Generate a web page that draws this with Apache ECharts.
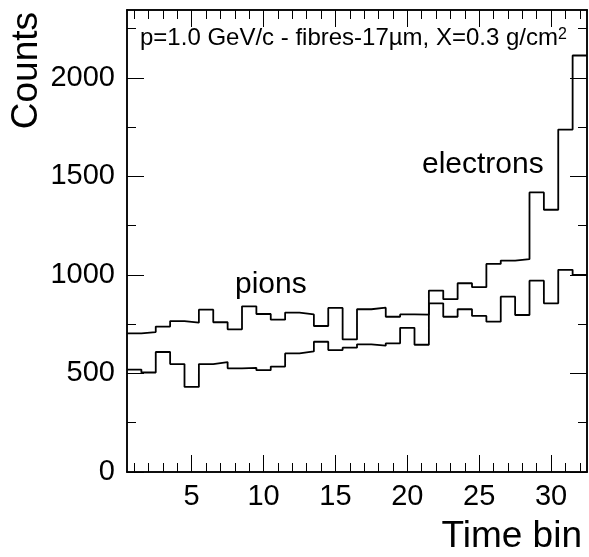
<!DOCTYPE html>
<html>
<head>
<meta charset="utf-8">
<script src="https://cdn.jsdelivr.net/npm/echarts@6/dist/echarts.min.js"></script>
<style>
html,body{margin:0;padding:0;background:#fff;}
#chart{width:589px;height:557px;}
</style>
</head>
<body>
<div id="chart"></div>
<script>
// Bin numbers (time bins 1..32)
const bins = [1,2,3,4,5,6,7,8,9,10,11,12,13,14,15,16,17,18,19,20,21,22,23,24,25,26,27,28,29,30,31,32];
// Counts per bin
const pions = [704,710,738,766,758,824,760,724,841,802,773,809,800,741,833,673,826,834,788,800,799,856,788,826,792,763,890,797,971,856,1026,1000];
const electrons = [520,505,609,548,432,548,558,526,529,517,535,602,612,661,619,631,648,641,653,732,646,921,877,958,938,1056,1073,1080,1419,1331,1738,2114];
// Axis ticks
const xMajorTicks = [5,10,15,20,25,30];
const xMinorTicks = bins;
const yMajorTicks = [0,500,1000,1500,2000];
const yMinorTicks = [250,750,1250,1750,2250];
const xMin = 0.5, xMax = 32.5, yMin = 0, yMax = 2345;

function histPoints(vals){
  const pts = bins.map((b,i)=>[b-0.5, vals[i]]);
  pts.push([bins[bins.length-1]+0.5, vals[vals.length-1]]);
  return pts;
}

const FONT = 'Liberation Sans, Arial, Helvetica, sans-serif';
const lineStyle = {color:'#000', width:1.5};

function xAx(pos, ticks, len, labels){
  return {
    type:'value', position:pos, min:xMin, max:xMax,
    axisLine:{show:true, onZero:false, lineStyle},
    axisTick:{show:true, inside:true, length:len, customValues:ticks, lineStyle:{color:'#000',width:1}},
    axisLabel: labels ? {show:true, customValues:ticks, color:'#000', fontFamily:FONT, fontSize:29, margin:10,
      formatter:(v)=>String(v)} : {show:false},
    splitLine:{show:false}
  };
}
function yAx(pos, ticks, len, labels){
  return {
    type:'value', position:pos, min:yMin, max:yMax,
    axisLine:{show:true, onZero:false, lineStyle},
    axisTick:{show:true, inside:true, length:len, customValues:ticks, lineStyle:{color:'#000',width:1}},
    axisLabel: labels ? {show:true, customValues:ticks, color:'#000', fontFamily:FONT, fontSize:29, margin:12,
      formatter:(v)=>String(v)} : {show:false},
    splitLine:{show:false}
  };
}

const chart = echarts.init(document.getElementById('chart'), null, {renderer:'canvas'});
chart.setOption({
  animation:false,
  backgroundColor:'#fff',
  grid:{left:127, top:10, width:460, height:462, containLabel:false},
  xAxis:[
    xAx('bottom', xMajorTicks, 17, true),
    xAx('bottom', xMinorTicks, 9, false),
    xAx('top', xMajorTicks, 17, false),
    xAx('top', xMinorTicks, 9, false)
  ],
  yAxis:[
    yAx('left', yMajorTicks, 17, true),
    yAx('left', yMinorTicks, 9, false),
    yAx('right', yMajorTicks, 17, false),
    yAx('right', yMinorTicks, 9, false)
  ],
  series:[
    {name:'pions', type:'line', step:'end', symbol:'none', data:histPoints(pions),
     lineStyle:{color:'#000', width:1.8}, xAxisIndex:0, yAxisIndex:0},
    {name:'electrons', type:'line', step:'end', symbol:'none', data:histPoints(electrons),
     lineStyle:{color:'#000', width:1.8}, xAxisIndex:0, yAxisIndex:0}
  ],
  graphic:[
    {type:'text', x:27, y:12, rotation:Math.PI/2,
     style:{text:'Counts', font:'37px '+FONT, fill:'#000', align:'right', verticalAlign:'middle'}},
    {type:'text', x:582, y:537,
     style:{text:'Time bin', font:'37px '+FONT, fill:'#000', align:'right', verticalAlign:'middle'}},
    {type:'text', x:140, y:38.5,
     style:{text:'{a|p=1.0 GeV/c - fibres-17\u00b5m, X=0.3 g/cm}{s|2}', fill:'#000', verticalAlign:'middle',
       rich:{a:{font:'24px '+FONT, fill:'#000'}, s:{font:'16px '+FONT, fill:'#000', verticalAlign:'top'}}}},
    {type:'text', x:235, y:285,
     style:{text:'pions', font:'30px '+FONT, fill:'#000', verticalAlign:'middle'}},
    {type:'text', x:422, y:165,
     style:{text:'electrons', font:'30px '+FONT, fill:'#000', verticalAlign:'middle'}}
  ]
});
</script>
</body>
</html>
